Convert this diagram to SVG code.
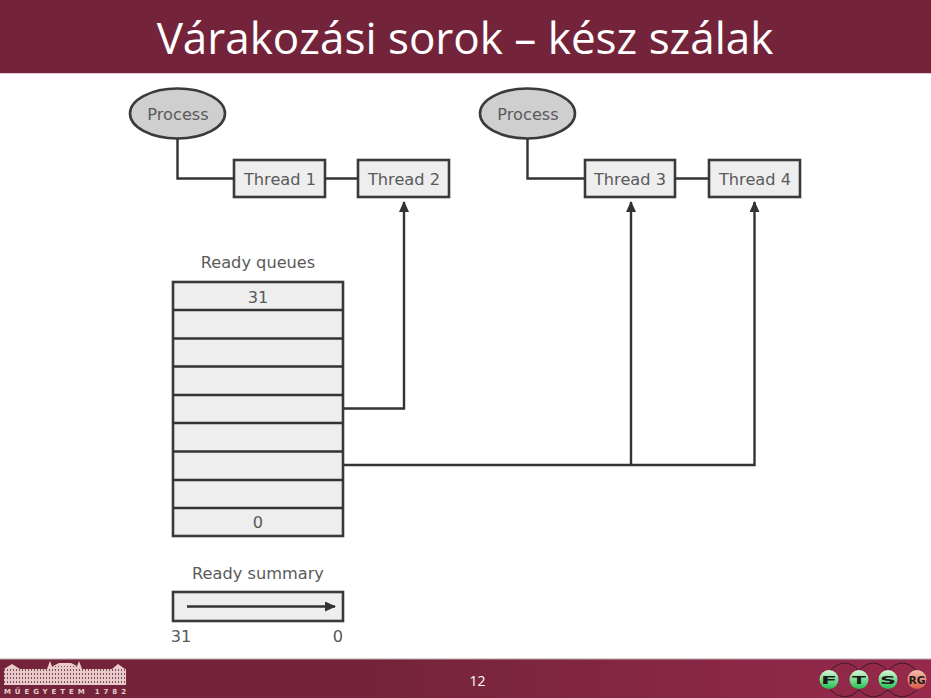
<svg xmlns="http://www.w3.org/2000/svg" width="931" height="698" viewBox="0 0 931 698">
<style>
.band{fill:#74243a}
.box{fill:#eeeeee;stroke:#3a3a3a;stroke-width:2.6}
.ell{fill:#cfcfcf;stroke:#3a3a3a;stroke-width:2.6}
.con{fill:none;stroke:#333;stroke-width:2.4}
.t{font-family:"DejaVu Sans",sans-serif;font-size:16.200px;fill:#5a5a5a;text-anchor:middle}
.title{font-family:"Open Sans","Noto Sans",sans-serif;font-size:44px;fill:#fff;text-anchor:middle}
.num{font-family:"Open Sans","Noto Sans",sans-serif;font-size:14px;fill:#fff;text-anchor:middle}
.logo{font-family:"DejaVu Sans",sans-serif;font-size:7px;font-weight:bold;fill:#e8cccc}
.ft{font-family:"DejaVu Sans",sans-serif;font-size:11px;font-weight:bold;fill:#1a1a1a;text-anchor:middle}
</style>
<defs>
<marker id="arr" markerUnits="userSpaceOnUse" markerWidth="12" markerHeight="10" refX="10" refY="5" orient="auto"><path d="M0 0L11 5L0 10Z" fill="#333"/></marker>
<linearGradient id="g" x1="0" y1="0" x2="0" y2="1"><stop offset="0" stop-color="#d8f8d8"/><stop offset="1" stop-color="#20c050"/></linearGradient>
<linearGradient id="r" x1="0" y1="0" x2="0" y2="1"><stop offset="0" stop-color="#f4c0b0"/><stop offset="1" stop-color="#d85a48"/></linearGradient>
<linearGradient id="fade" x1="0" y1="0" x2="1" y2="0"><stop offset="0" stop-color="#74243a"/><stop offset="0.4" stop-color="#74243a"/><stop offset="1" stop-color="#96294c"/></linearGradient>
<pattern id="win" width="3" height="4" patternUnits="userSpaceOnUse"><rect width="3" height="4" fill="#e6caca"/><rect x="1" y="1" width="1" height="2" fill="#8a4a5a"/></pattern>
</defs>
<rect width="931" height="698" fill="#fff"/>
<g id="header"><rect class="band" width="931" height="73"/><rect y="73" width="931" height="1" fill="#e0c8ce"/><text class="title" x="465" y="53.500">Várakozási sorok – kész szálak</text></g>
<g id="footer"><rect y="659" width="931" height="39" fill="url(#fade)"/><rect y="658.500" width="931" height="1" fill="#b8a8ac"/><text class="num" x="477.500" y="685.500">12</text></g>
<g id="logo">
<rect x="4" y="669" width="122" height="16" fill="url(#win)"/>
<rect x="52" y="666" width="26" height="19" fill="url(#win)"/>
<path d="M4 669L12 664L20 669ZM47 669L50 661L53 669ZM53 666L59 663H71L77 666ZM76 669L79 661L82 669ZM112 669L118 664L125 669Z" fill="#e8cccc"/>
<text class="logo" x="4" y="694" textLength="122">MŰEGYETEM 1782</text>
</g>
<g id="fts-logo">
<path d="M830 671Q845 655 859 671Q873 655 888 671Q902 655 917 671M830 690Q845 704 859 690Q873 704 888 690Q902 704 917 690" fill="none" stroke="#3a1a26" stroke-width="1"/>
<circle cx="829" cy="679.500" r="9.500" fill="url(#g)"/><circle cx="859" cy="679.500" r="9.500" fill="url(#g)"/><circle cx="888" cy="679.500" r="9.500" fill="url(#g)"/><circle cx="917" cy="679.500" r="9.500" fill="url(#r)"/>
<text class="ft" x="829" y="684" textLength="16" lengthAdjust="spacingAndGlyphs">F</text><text class="ft" x="859" y="684" textLength="14" lengthAdjust="spacingAndGlyphs">T</text><text class="ft" x="888" y="684" textLength="16" lengthAdjust="spacingAndGlyphs">S</text><text class="ft" x="917" y="684" textLength="17" lengthAdjust="spacingAndGlyphs">RG</text>
</g>
<g id="process-1"><ellipse class="ell" cx="177.500" cy="113.500" rx="47.500" ry="25"/><text class="t" x="178" y="120">Process</text></g>
<g id="process-2"><ellipse class="ell" cx="527.500" cy="113.500" rx="47.500" ry="25"/><text class="t" x="528" y="120">Process</text></g>
<g id="thread-1"><rect class="box" x="234" y="160" width="91" height="37"/><text class="t" x="280" y="185">Thread 1</text></g>
<g id="thread-2"><rect class="box" x="358" y="160" width="91" height="37"/><text class="t" x="404" y="185">Thread 2</text></g>
<g id="thread-3"><rect class="box" x="585" y="160" width="90" height="37"/><text class="t" x="630" y="185">Thread 3</text></g>
<g id="thread-4"><rect class="box" x="709" y="160" width="91" height="37"/><text class="t" x="755" y="185">Thread 4</text></g>
<g id="ready-queues">
<text class="t" x="258" y="268">Ready queues</text>
<rect class="box" x="173" y="282" width="170" height="254"/>
<path class="con" d="M173 310H343M173 338.500H343M173 366.500H343M173 395H343M173 423H343M173 451.500H343M173 480H343M173 508H343"/>
<text class="t" x="258" y="303">31</text><text class="t" x="258" y="528">0</text>
</g>
<g id="ready-summary">
<text class="t" x="258" y="579">Ready summary</text>
<rect class="box" x="173" y="592" width="170" height="29"/>
<text class="t" x="181" y="642">31</text><text class="t" x="338" y="642">0</text>
</g>
<g id="connectors">
<path class="con" d="M177.500 138V178.500H234"/>
<path class="con" d="M325 178.500H358"/>
<path class="con" d="M527.500 138V178.500H585"/>
<path class="con" d="M675 178.500H709"/>
<path class="con" d="M343 408.500H404V202" marker-end="url(#arr)"/>
<path class="con" d="M343 465H754.500V202" marker-end="url(#arr)"/>
<path class="con" d="M631 465V202" marker-end="url(#arr)"/>
<path class="con" d="M187 606.500H335" marker-end="url(#arr)"/>
</g>
</svg>
